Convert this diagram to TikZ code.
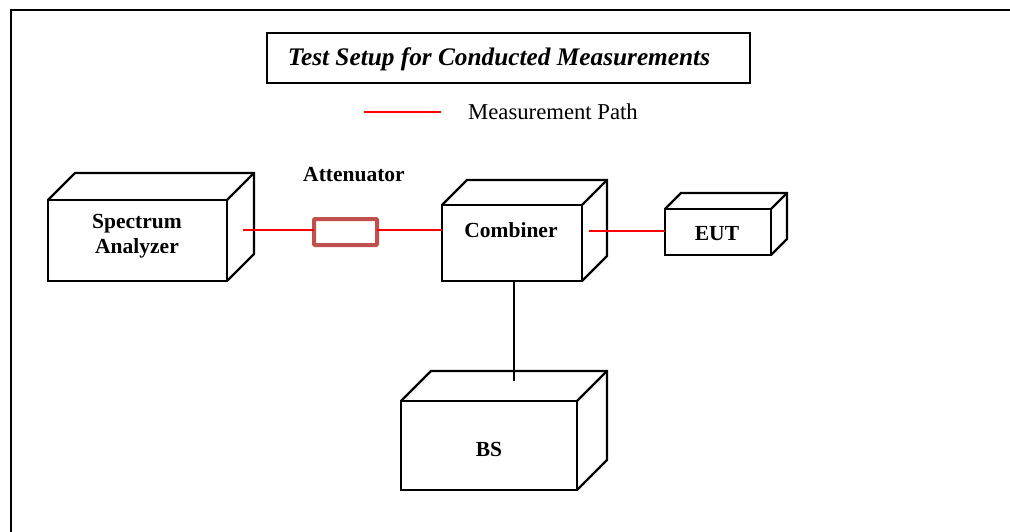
\documentclass[tikz,border=0pt]{standalone}
\usepackage{fontspec}
\setmainfont{Liberation Serif}
\usetikzlibrary{calc}
\definecolor{attred}{HTML}{C0504D}
\definecolor{pathred}{HTML}{FF0000}
\tikzset{
  face/.style={draw=black, line width=2.2pt, fill=white, inner sep=0pt, outer sep=0pt},
  edge/.style={draw=black, line width=2.2pt, line join=miter},
  lbl/.style={font=\fontsize{21.5}{25}\selectfont\bfseries, align=center, inner sep=0pt},
  meas/.style={draw=pathred, line width=2pt},
  attbox/.style={draw=attred, line width=4pt, fill=white, inner sep=0pt, outer sep=0pt, rounded corners=1pt},
}
\newcommand{\mybox}[2]{% name, depth
  \draw[edge] (#1.north west) -- ++(#2,-#2) -- ($(#1.north east)+(#2,-#2)$) -- ($(#1.south east)+(#2,-#2)$) -- (#1.south east);
  \draw[edge] (#1.north east) -- ++(#2,-#2);
}
\begin{document}
\begin{tikzpicture}[x=1pt,y=-1pt]
\useasboundingbox (0,0) rectangle (1010,532);
% outer frame
\draw[line width=2.2pt] (11,540) -- (11,10) -- (1020,10);
% title
\node[draw, line width=2.2pt, minimum width=483, minimum height=50, inner sep=0pt] (titlebox) at (508.5,58) {};
\node[font=\fontsize{25.3}{28}\selectfont\bfseries\itshape, inner sep=0pt] (title) at (499,59) {Test Setup for Conducted Measurements};
% legend
\coordinate (lega) at (364,112);
\coordinate (legb) at (441,112);
\draw[meas] (lega) -- (legb);
\node[font=\fontsize{22.7}{26}\selectfont, anchor=west, inner sep=0pt] (legtxt) at (468,112) {Measurement Path};
% boxes
\node[face, minimum width=179, minimum height=81] (sa) at (137.5,240.5) {};
\mybox{sa}{27}
\node[face, minimum width=140, minimum height=76] (comb) at (512,243) {};
\mybox{comb}{25}
\node[face, minimum width=106, minimum height=46] (eut) at (718,232) {};
\mybox{eut}{16}
\node[face, minimum width=176, minimum height=89] (bs) at (489,445.5) {};
\mybox{bs}{30}
% labels
\node[lbl] (salbl) at (137,236.5) {Spectrum\\Analyzer};
\node[lbl] (comblbl) at (511,230) {Combiner};
\node[lbl] (eutlbl) at (717,234) {EUT};
\node[lbl] (bslbl) at (489,449) {BS};
\node[lbl] (attlbl) at (354,175) {Attenuator};
% attenuator
\node[attbox, minimum width=63, minimum height=26] (att) at (345.5,232) {};
% connectors
\coordinate (saout) at (243,230);
\draw[meas] (saout) -- (saout -| att.west);
\draw[meas] (att.east |- saout) -- (comb.west |- saout);
\coordinate (combout) at (589,231);
\draw[meas] (combout) -- (combout -| eut.west);
\coordinate (bsin) at (514,381);
\draw[line width=2.2pt] (bsin |- comb.south) -- (bsin);
\end{tikzpicture}
\end{document}
